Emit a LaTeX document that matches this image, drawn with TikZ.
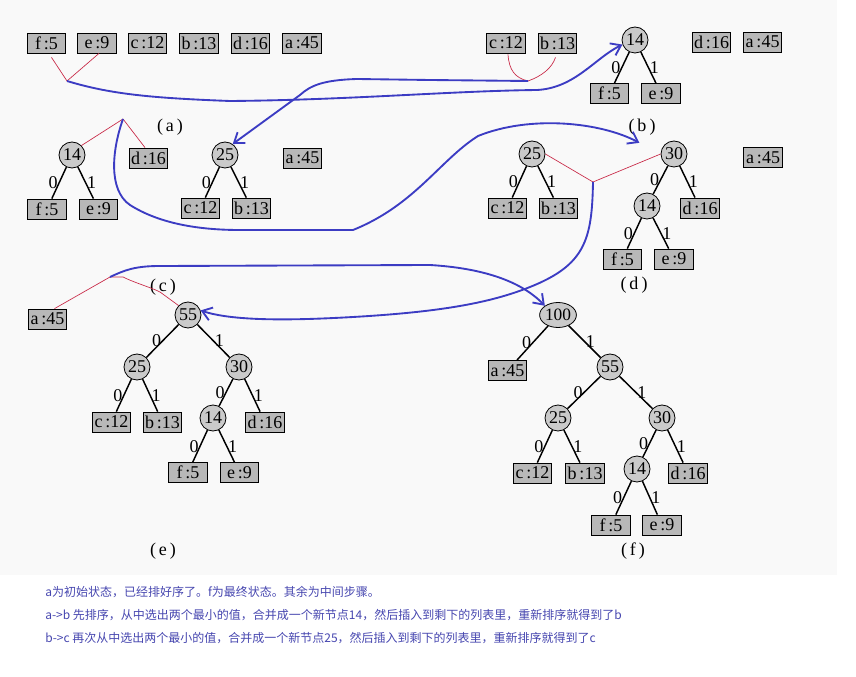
\documentclass[tikz,border=0pt]{standalone}
\usepackage{fontspec}
\setmainfont{Liberation Serif}
\newfontfamily\cjkfont{Noto Sans CJK SC}
\usetikzlibrary{shapes.geometric,arrows.meta,calc}
\definecolor{boxgray}{RGB}{184,184,184}
\definecolor{circgray}{RGB}{202,202,202}
\definecolor{redline}{RGB}{200,40,70}
\definecolor{blueline}{RGB}{60,60,195}
\definecolor{txtblue}{RGB}{70,70,175}
\definecolor{scanbg}{RGB}{249,249,249}
\begin{document}
\begin{tikzpicture}[x=0.75pt,y=-0.75pt,
  leaf/.style={draw,line width=0.6pt,fill=boxgray,minimum width=29pt,minimum height=15pt,inner sep=0pt,font=\fontsize{13.5}{13.5}\selectfont},
  inner/.style={circle,draw,line width=0.6pt,fill=circgray,minimum size=19.5pt,inner sep=0pt,font=\fontsize{13.5}{13.5}\selectfont},
  rootell/.style={ellipse,draw,line width=0.6pt,fill=circgray,minimum width=25pt,minimum height=18.75pt,inner sep=0pt,font=\fontsize{13}{13}\selectfont},
  treeedge/.style={line width=1.1pt,black},
  bitlab/.style={font=\fontsize{13.5}{13.5}\selectfont,inner sep=0.5pt},
  sublab/.style={font=\fontsize{13.5}{13.5}\selectfont,inner sep=0pt},
  redlink/.style={redline,line width=0.5pt},
  bluelink/.style={blueline,line width=1.4pt,-{Straight Barb[length=7pt,width=10pt]}},
  note/.style={anchor=west,inner sep=0pt,text=txtblue,font=\cjkfont\fontsize{9}{11}\selectfont}]
\useasboundingbox (0,0) rectangle (856,677);
\fill[scanbg] (0,0) rectangle (837,575);

% ---------- (a)
\node[leaf] (f5a) at (46.5,43) {f\,:5};
\node[leaf] (e9a) at (97,43) {e\,:9};
\node[leaf] (c12a) at (147.5,43) {c\,:12};
\node[leaf] (b13a) at (199,43) {b\,:13};
\node[leaf] (d16a) at (250.5,43) {d\,:16};
\node[leaf] (a45a) at (302,43) {a\,:45};
\node[sublab] (la) at (170,127) {(\,a\,)};

% ---------- (b)
\node[leaf] (c12b) at (506,43) {c\,:12};
\node[leaf] (b13b) at (557.5,43) {b\,:13};
\node[inner] (n14b) at (635,40) {14};
\node[leaf] (f5b) at (609.5,93.5) {f\,:5};
\node[leaf] (e9b) at (661,93.5) {e\,:9};
\node[leaf] (d16b) at (711.5,42) {d\,:16};
\node[leaf] (a45b) at (762.5,42) {a\,:45};
\node[sublab] (lb) at (642,127) {(\,b\,)};
\draw[treeedge] (n14b) -- node[bitlab,left] {0} (f5b);
\draw[treeedge] (n14b) -- node[bitlab,right] {1} (e9b);

% ---------- (c)
\node[inner] (n14c) at (72,155) {14};
\node[leaf] (f5c) at (47,209) {f\,:5};
\node[leaf] (e9c) at (98.5,209) {e\,:9};
\node[leaf] (d16c) at (148.5,158) {d\,:16};
\node[inner] (n25c) at (225,155) {25};
\node[leaf] (c12c) at (200.5,208) {c\,:12};
\node[leaf] (b13c) at (251.5,208) {b\,:13};
\node[leaf] (a45c) at (302.5,158) {a\,:45};
\node[sublab] (lc) at (163,287) {(\,c\,)};
\draw[treeedge] (n14c) -- node[bitlab,left] {0} (f5c);
\draw[treeedge] (n14c) -- node[bitlab,right] {1} (e9c);
\draw[treeedge] (n25c) -- node[bitlab,left] {0} (c12c);
\draw[treeedge] (n25c) -- node[bitlab,right] {1} (b13c);

% ---------- (d)
\node[inner] (n25d) at (532,154) {25};
\node[leaf] (c12d) at (507.5,208) {c\,:12};
\node[leaf] (b13d) at (558.5,208) {b\,:13};
\node[inner] (n30d) at (674,154) {30};
\node[inner] (n14d) at (647,206) {14};
\node[leaf] (d16d) at (700,208) {d\,:16};
\node[leaf] (f5d) at (622.5,259) {f\,:5};
\node[leaf] (e9d) at (674,259) {e\,:9};
\node[leaf] (a45d) at (763,157.5) {a\,:45};
\node[sublab] (ld) at (634,285) {(\,d\,)};
\draw[treeedge] (n25d) -- node[bitlab,left] {0} (c12d);
\draw[treeedge] (n25d) -- node[bitlab,right] {1} (b13d);
\draw[treeedge] (n30d) -- node[bitlab,left] {0} (n14d);
\draw[treeedge] (n30d) -- node[bitlab,right] {1} (d16d);
\draw[treeedge] (n14d) -- node[bitlab,left] {0} (f5d);
\draw[treeedge] (n14d) -- node[bitlab,right] {1} (e9d);

% ---------- (e)
\node[leaf] (a45e) at (47.5,319) {a\,:45};
\node[inner] (n55e) at (188,315) {55};
\node[inner] (n25e) at (137,367) {25};
\node[inner] (n30e) at (239,367) {30};
\node[leaf] (c12e) at (111.5,422) {c\,:12};
\node[leaf] (b13e) at (162.5,422) {b\,:13};
\node[inner] (n14e) at (213,418) {14};
\node[leaf] (d16e) at (265,422) {d\,:16};
\node[leaf] (f5e) at (188,472.5) {f\,:5};
\node[leaf] (e9e) at (239.5,472.5) {e\,:9};
\node[sublab] (le) at (163,551) {(\,e\,)};
\draw[treeedge] (n55e) -- node[bitlab,left] {0} (n25e);
\draw[treeedge] (n55e) -- node[bitlab,right] {1} (n30e);
\draw[treeedge] (n25e) -- node[bitlab,left] {0} (c12e);
\draw[treeedge] (n25e) -- node[bitlab,right] {1} (b13e);
\draw[treeedge] (n30e) -- node[bitlab,left] {0} (n14e);
\draw[treeedge] (n30e) -- node[bitlab,right] {1} (d16e);
\draw[treeedge] (n14e) -- node[bitlab,left] {0} (f5e);
\draw[treeedge] (n14e) -- node[bitlab,right] {1} (e9e);

% ---------- (f)
\node[rootell] (n100f) at (558,315) {100};
\node[leaf] (a45f) at (507.5,370.5) {a\,:45};
\node[inner] (n55f) at (610,367) {55};
\node[inner] (n25f) at (558,418) {25};
\node[inner] (n30f) at (662,418) {30};
\node[leaf] (c12f) at (532.5,473) {c\,:12};
\node[leaf] (b13f) at (585,473) {b\,:13};
\node[inner] (n14f) at (637,469) {14};
\node[leaf] (d16f) at (688,473) {d\,:16};
\node[leaf] (f5f) at (611,525) {f\,:5};
\node[leaf] (e9f) at (662,525) {e\,:9};
\node[sublab] (lf) at (633,551) {(\,f\,)};
\draw[treeedge] (n100f) -- node[bitlab,left] {0} (a45f);
\draw[treeedge] (n100f) -- node[bitlab,right] {1} (n55f);
\draw[treeedge] (n55f) -- node[bitlab,left] {0} (n25f);
\draw[treeedge] (n55f) -- node[bitlab,right] {1} (n30f);
\draw[treeedge] (n25f) -- node[bitlab,left] {0} (c12f);
\draw[treeedge] (n25f) -- node[bitlab,right] {1} (b13f);
\draw[treeedge] (n30f) -- node[bitlab,left] {0} (n14f);
\draw[treeedge] (n30f) -- node[bitlab,right] {1} (d16f);
\draw[treeedge] (n14f) -- node[bitlab,left] {0} (f5f);
\draw[treeedge] (n14f) -- node[bitlab,right] {1} (e9f);

% ---------- red merge marks
\coordinate (va) at (67,81);
\coordinate (vb) at (528,81);
\coordinate (vc) at (123,119);
\coordinate (vd) at (593,182);
\coordinate (ve) at (110,277);
\draw[redlink] ($(f5a.south)+(5,4)$) -- (va) -- ($(e9a.south)+(2,0)$);
\draw[redlink] ($(c12b.south)+(2,1)$) .. controls (509,70) and (515,78) .. (vb) .. controls (542,76) and (552,68) .. ($(b13b.south)+(-2,4)$);
\draw[redlink] (n14c.45) -- (vc) -- ($(d16c.north)+(-3.5,0)$);
\draw[redlink] (n25d.east) -- (vd) -- (n30d.west);
\draw[redlink] ($(a45e.north)+(7,0)$) -- (ve) -- (123,277) .. controls (135,283) and (150,287) .. (160,292) -- (n55e.135);

% ---------- blue arrows
\draw[bluelink] (va) .. controls (110,94) and (150,98) .. (230,101) .. controls (350,100) and (450,91) .. (537,90) .. controls (575,88) and (595,58) .. (n14b.200);
\draw[bluelink] (vb) -- (430,80) -- (357,79) .. controls (322,80) and (310,86) .. (300,95) -- (n25c.55);
\draw[bluelink,shorten >=18pt] (vc) .. controls (112,150) and (108,190) .. (130,205) .. controls (160,224) and (200,230) .. (240,230) -- (353,230) .. controls (415,205) and (440,160) .. (478,136) .. controls (530,115) and (600,122) .. (n30d.west);
\draw[bluelink] (vd) .. controls (592,240) and (585,265) .. (530,287) .. controls (490,303) and (440,312) .. (353,317) .. controls (300,320) and (235,322) .. (n55e.20);
\draw[bluelink] (ve) .. controls (125,270) and (135,266) .. (160,266) -- (430,265) .. controls (480,268) and (520,280) .. (n100f.145);

% ---------- notes
\node[note] (t1) at (45,592) {a为初始状态，已经排好序了。f为最终状态。其余为中间步骤。};
\node[note] (t2) at (45,615) {a->b 先排序，从中选出两个最小的值，合并成一个新节点14，然后插入到剩下的列表里，重新排序就得到了b};
\node[note] (t3) at (45,638) {b->c 再次从中选出两个最小的值，合并成一个新节点25，然后插入到剩下的列表里，重新排序就得到了c};
\end{tikzpicture}
\end{document}
